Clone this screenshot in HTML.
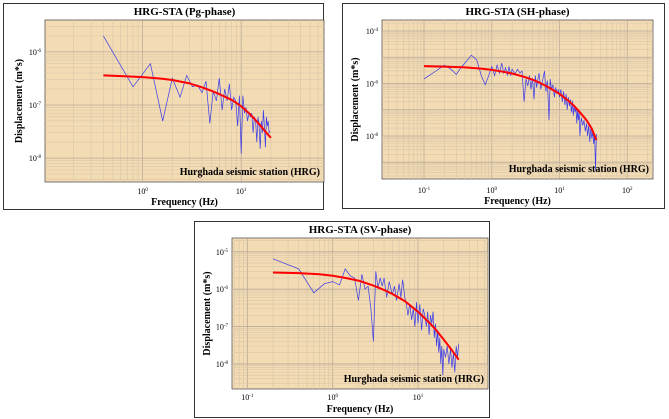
<!DOCTYPE html>
<html><head><meta charset="utf-8">
<style>
html,body{margin:0;padding:0;background:#fff;}
body{width:669px;height:419px;position:relative;overflow:hidden;font-family:"Liberation Serif",serif;}
.box{position:absolute;border:1px solid #333;box-sizing:border-box;}
svg{position:absolute;left:0;top:0;}
</style></head>
<body>
<div class="box" style="left:3px;top:3px;width:321px;height:207px"></div>
<div class="box" style="left:342px;top:3px;width:323px;height:206px"></div>
<div class="box" style="left:194px;top:221px;width:296px;height:197px"></div>
<svg id="chart" width="669" height="419"></svg>
<script>
// ---- Pg phase data ----
const pgFreq = [0.4,0.8,1.2,1.6,2,2.4,2.8,3.2,3.6,4,4.4,4.8,5.2,5.6,6,6.4,6.8,7.2,7.6,8,8.4,8.8,9.2,9.6,10,10.4,10.8,11.2,11.6,12,12.4,12.8,13.2,13.6,14,14.4,14.8,15.2,15.6,16,16.4,16.8,17.2,17.6,18,18.4,18.8,19.2,19.6];
const pgAmp = [2e-6,2.2e-7,6e-7,5e-8,3.2e-7,1.4e-7,3.6e-7,2.2e-7,2.4e-7,1.7e-7,2.8e-7,4.5e-8,1.8e-7,1.2e-7,3.2e-7,8e-8,2e-7,1.2e-7,2.5e-7,8e-8,1.4e-7,1.2e-7,4e-8,1.5e-7,1.2e-8,1.5e-7,7e-8,9e-8,5e-8,7e-8,6e-8,7e-8,3e-8,6e-8,5e-8,2e-8,6e-8,4e-8,1.5e-8,5e-8,3e-8,8e-8,4e-8,1.6e-8,6e-8,4e-8,5e-8,3e-8,3.2e-8];
const pgFitFreq = [0.4,0.7,1,1.5,2,3,4,5,6,7,8,10,12,14,16,18,20];
const pgFitAmp = [3.6e-7,3.45e-7,3.35e-7,3.15e-7,2.95e-7,2.55e-7,2.15e-7,1.85e-7,1.6e-7,1.4e-7,1.25e-7,9.5e-8,7e-8,5.2e-8,3.9e-8,3e-8,2.4e-8];
// ---- SH phase data ----
const shFreq = [0.1,0.15,0.2,0.25,0.3,0.35,0.4,0.5,0.6,0.7,0.8,0.9,1,1.1,1.2,1.3,1.4,1.5,1.6,1.7,1.8,1.9,2,2.2,2.4,2.6,2.8,3,3.2,3.4,3.6,3.8,4,4.2,4.4,4.6,4.8,5,5.3,5.6,6,6.3,6.6,7,7.3,7.6,8,8.4,8.8,9.2,9.6,10,10.5,11,11.5,12,12.5,13,13.5,14,14.5,15,15.5,16,16.5,17,17.5,18,18.5,19,19.5,20,21,22,23,24,25,26,27,28,29,30,31,32,33,34,35];
const shAmp = [1.5e-6,3e-6,5e-6,3.5e-6,2.2e-6,4e-6,6e-6,1.2e-5,8e-6,2e-6,9e-7,2e-6,4.5e-6,2e-6,5e-6,2.5e-6,6e-6,2.5e-6,4e-6,2e-6,4.5e-6,2e-6,3.5e-6,2.3e-6,3.5e-6,2.5e-6,3e-6,2e-7,1.5e-6,8e-7,2e-6,6e-7,1.6e-6,2.5e-7,2e-6,7e-7,1.5e-6,2.5e-6,6e-7,1.2e-6,3e-6,5e-7,1.3e-6,4e-8,1.5e-6,6e-7,9e-7,3e-7,7e-7,4e-7,6e-7,3e-7,6e-7,2e-7,5e-7,1.5e-7,4e-7,1e-7,3e-7,1.4e-7,2.5e-7,8e-8,2.2e-7,6e-8,1.5e-7,8e-8,1.2e-7,3e-8,1e-7,4e-8,8e-8,1e-8,5e-8,2.5e-8,4e-8,1.5e-8,3e-8,1e-8,2.5e-8,6e-9,2e-8,8e-9,1.5e-8,5e-9,1.2e-8,5e-10,1.2e-8];
const shFitFreq = [0.1,0.2,0.4,0.7,1,1.5,2,3,4,5,7,10,13,16,20,25,30,35];
const shFitAmp = [4.6e-6,4.4e-6,4.1e-6,3.7e-6,3.3e-6,2.8e-6,2.4e-6,1.8e-6,1.4e-6,1.1e-6,7e-7,4e-7,2.4e-7,1.5e-7,8e-8,4e-8,1.9e-8,7e-9];
// ---- SV phase data ----
const svFreq = [0.2,0.4,0.6,0.8,1,1.2,1.4,1.6,1.8,2,2.2,2.4,2.6,2.8,3,3.2,3.4,3.6,3.8,4,4.3,4.6,5,5.3,5.6,6,6.3,6.6,7,7.3,7.6,8,8.4,8.8,9.2,9.6,10,10.5,11,11.5,12,12.5,13,13.5,14,14.5,15,15.5,16,16.5,17,17.5,18,18.5,19,19.5,20,21,22,23,24,25,26,27,28,29,30];
const svAmp = [6.5e-6,3.5e-6,8e-7,1.4e-6,1.6e-6,1.3e-6,3.5e-6,2.3e-6,2e-6,5e-7,2.5e-6,1e-6,1.2e-6,3e-7,4e-8,3e-6,1.1e-6,2e-6,1.2e-6,2e-6,6e-7,1.6e-6,7e-7,1.2e-6,5e-7,1.4e-6,6e-7,1.8e-6,6e-7,4e-7,2e-7,4e-7,1.5e-7,3e-7,1e-7,4.5e-7,1.2e-7,4e-7,8e-8,3e-7,2e-7,1e-7,2.5e-7,6e-8,2e-7,1.2e-7,2.5e-7,5e-8,1.2e-7,3e-8,8e-8,2e-8,5e-8,1e-8,3e-8,5e-9,2.5e-8,1.5e-8,3e-8,1e-8,2.5e-8,8e-9,2e-8,6e-9,3e-8,1.5e-8,3.5e-8];
const svFitFreq = [0.2,0.4,0.7,1,1.5,2,3,4,5,7,10,13,16,20,25,30];
const svFitAmp = [2.8e-6,2.7e-6,2.5e-6,2.3e-6,1.95e-6,1.7e-6,1.25e-6,9.5e-7,7.5e-7,4.8e-7,2.5e-7,1.4e-7,8.5e-8,4.5e-8,2.3e-8,1.3e-8];
// x/y tick exponents
const pgXTicks = [0,1], pgYTicks = [-6,-7,-8];
const shXTicks = [-1,0,1,2], shYTicks = [-4,-6,-8];
const svXTicks = [-1,0,1], svYTicks = [-5,-6,-7,-8];

const NS='http://www.w3.org/2000/svg';
const svg=document.getElementById('chart');
function mk(tag,attrs,parent){const e=document.createElementNS(NS,tag);for(const k in attrs)e.setAttribute(k,attrs[k]);(parent||svg).appendChild(e);return e;}

function panel(cfg){
  const g=mk('g',{});
  
  
  const {L,R,T,B,x0,x1,y0,y1}=cfg;
  const sx=v=>L+(Math.log10(v)-x0)/(x1-x0)*(R-L);
  const sy=v=>B-(Math.log10(v)-y0)/(y1-y0)*(B-T);
  const bg=mk('rect',{x:L,y:T,width:R-L,height:B-T,fill:'#f3dbb4',stroke:'#555','stroke-width':0.8},g);
  
  
  const clip=mk('clipPath',{id:'c'+cfg.id},g);mk('rect',{x:L,y:T,width:R-L,height:B-T},clip);
  const gg=mk('g',{'clip-path':'url(#c'+cfg.id+')'},g);
  for(let d=Math.floor(x0);d<=Math.ceil(x1);d++)for(let m=1;m<10;m++){const v=m*Math.pow(10,d);const x=sx(v);if(x<L||x>R)continue;
    mk('line',{x1:x,x2:x,y1:T,y2:B,stroke:m==1?'#b9ab98':'#d8c6a8','stroke-width':m==1?0.8:0.6},gg);}
  for(let d=Math.floor(y0);d<=Math.ceil(y1);d++)for(let m=1;m<10;m++){const v=m*Math.pow(10,d);const y=sy(v);if(y<T||y>B)continue;
    mk('line',{y1:y,y2:y,x1:L,x2:R,stroke:m==1?'#b9ab98':'#d8c6a8','stroke-width':m==1?0.8:0.6},gg);}
  let p='';cfg.f.forEach((f,i)=>{p+=(i?'L':'M')+sx(f).toFixed(1)+' '+sy(cfg.a[i]).toFixed(1);});
  const bl=mk('path',{d:p,fill:'none',stroke:'#3a3ae8','stroke-width':0.7},gg);
  
  
  p='';cfg.ff.forEach((f,i)=>{p+=(i?'L':'M')+sx(f).toFixed(1)+' '+sy(cfg.fa[i]).toFixed(1);});
  const rl=mk('path',{d:p,fill:'none',stroke:'#f00','stroke-width':2,'stroke-linejoin':'round'},gg);
  
  
  cfg.xt.forEach(e=>{const t=mk('text',{x:sx(Math.pow(10,e)),y:cfg.xty,'font-size':8,'text-anchor':'middle'},g);
    
    
    t.textContent='10';const s=mk('tspan',{dy:-3,'font-size':5},t);s.textContent=e;});
  cfg.yt.forEach(e=>{const t=mk('text',{x:L-4,y:sy(Math.pow(10,e))+3,'font-size':8,'text-anchor':'end'},g);
    
    
    t.textContent='10';const s=mk('tspan',{dy:-3,'font-size':5},t);s.textContent=e;});
  const ti=mk('text',{x:(L+R)/2,y:cfg.ty,'font-size':11,'font-weight':'bold','text-anchor':'middle'},g);
  
  
  ti.textContent=cfg.title;
  const st=mk('text',{x:R-4,y:B-7,'font-size':10,'font-weight':'bold','text-anchor':'end'},g);
  
  
  st.textContent='Hurghada seismic station (HRG)';
  const xl=mk('text',{x:(L+R)/2,y:cfg.xly,'font-size':10,'font-weight':'bold','text-anchor':'middle'},g);
  
  
  xl.textContent='Frequency (Hz)';
  const yl=mk('text',{x:0,y:0,'font-size':10,'font-weight':'bold','text-anchor':'middle',transform:`translate(${cfg.ylx},${(T+B)/2}) rotate(-90)`},g);
  
  
  yl.textContent='Displacement (m*s)';
}
panel({id:'pg',L:45,R:324,T:20,B:182,x0:-0.99,x1:1.84,y0:-8.45,y1:-5.4,f:pgFreq,a:pgAmp,ff:pgFitFreq,fa:pgFitAmp,xt:pgXTicks,yt:pgYTicks,xty:194,ty:15,xly:205,ylx:22,title:'HRG-STA (Pg-phase)'});
panel({id:'sh',L:382,R:653,T:20,B:179,x0:-1.62,x1:2.38,y0:-9.64,y1:-3.58,f:shFreq,a:shAmp,ff:shFitFreq,fa:shFitAmp,xt:shXTicks,yt:shYTicks,xty:193,ty:15,xly:204,ylx:358,title:'HRG-STA (SH-phase)'});
panel({id:'sv',L:232,R:488,T:238,B:389,x0:-1.18,x1:1.82,y0:-8.67,y1:-4.63,f:svFreq,a:svAmp,ff:svFitFreq,fa:svFitAmp,xt:svXTicks,yt:svYTicks,xty:400,ty:233,xly:412,ylx:210,title:'HRG-STA (SV-phase)'});
</script>
</body></html>
